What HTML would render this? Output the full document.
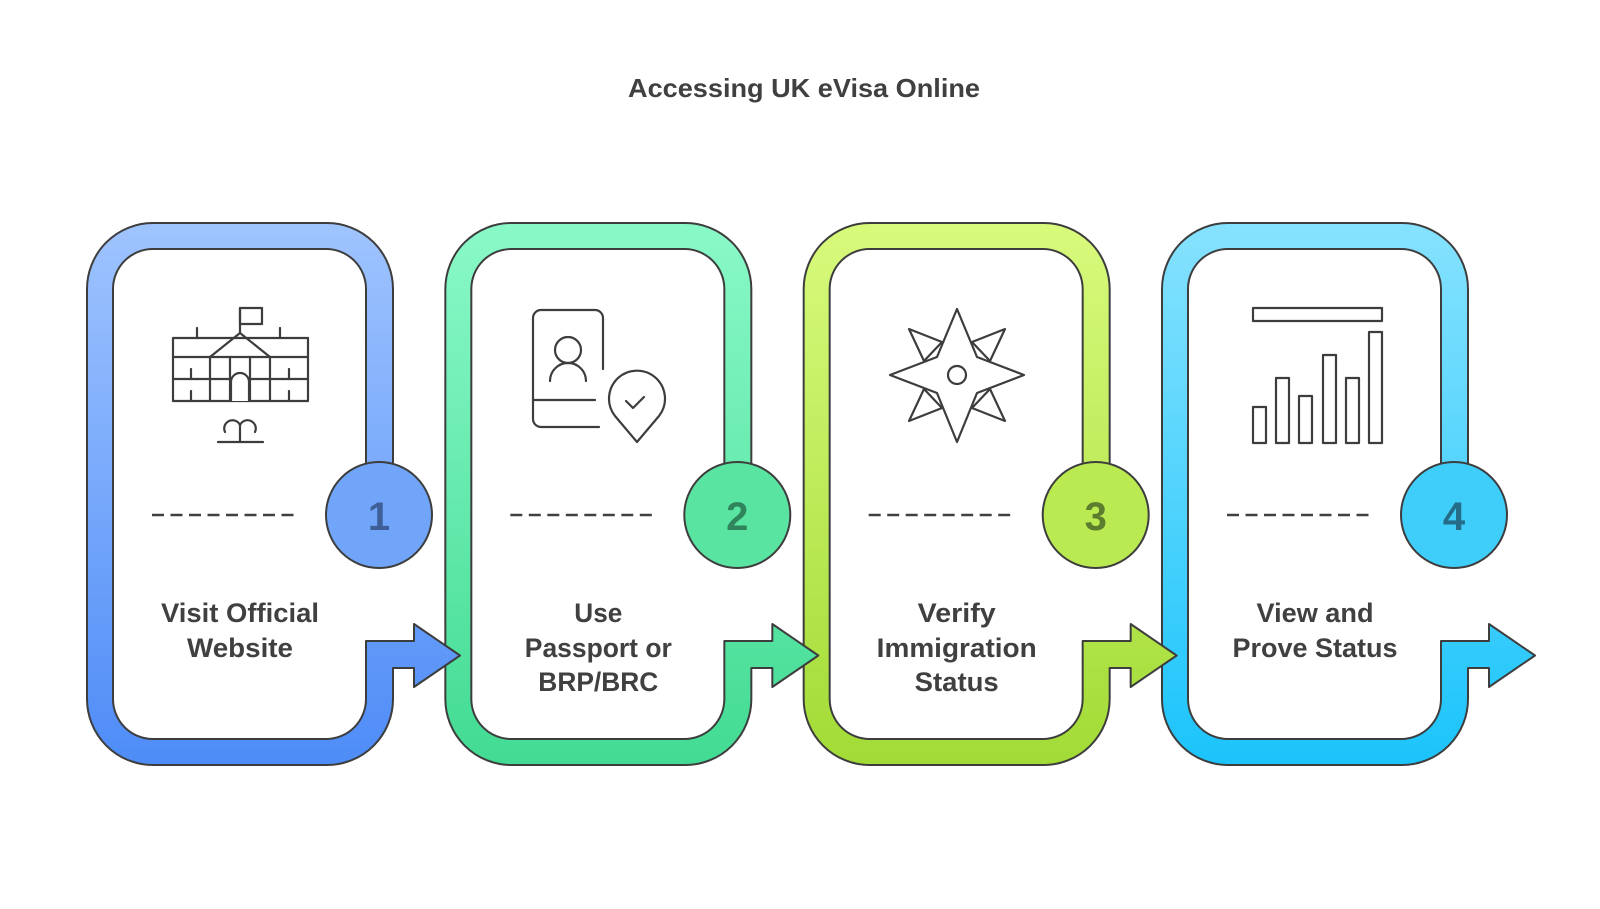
<!DOCTYPE html>
<html><head><meta charset="utf-8"><style>
html,body{margin:0;padding:0;background:#fff;}
svg{display:block;}
text{font-family:"Liberation Sans",sans-serif;font-weight:bold;fill:#404040;}
</style></head><body>
<svg width="1600" height="909" viewBox="0 0 1600 909" xmlns="http://www.w3.org/2000/svg">
<defs>
<linearGradient id="g1" gradientUnits="userSpaceOnUse" x1="0" y1="223" x2="0" y2="765"><stop offset="0" stop-color="#9fc4fe"/><stop offset="1" stop-color="#4e8cf7"/></linearGradient>
<linearGradient id="g2" gradientUnits="userSpaceOnUse" x1="0" y1="223" x2="0" y2="765"><stop offset="0" stop-color="#8af9c8"/><stop offset="1" stop-color="#42db93"/></linearGradient>
<linearGradient id="g3" gradientUnits="userSpaceOnUse" x1="0" y1="223" x2="0" y2="765"><stop offset="0" stop-color="#d8fa7c"/><stop offset="1" stop-color="#a2db36"/></linearGradient>
<linearGradient id="g4" gradientUnits="userSpaceOnUse" x1="0" y1="223" x2="0" y2="765"><stop offset="0" stop-color="#86e2fe"/><stop offset="1" stop-color="#1bc4fb"/></linearGradient>
<path id="shape" d="M366,470 L366,289 A40 40 0 0 0 326,249 L153,249 A40 40 0 0 0 113,289 L113,699 A40 40 0 0 0 153,739 L326,739 A40 40 0 0 0 366,699 L366,641 L414,641 L414,624 L460,655.5 L414,687 L414,668 L393,668 L393,699 A66 66 0 0 1 327,765 L153,765 A66 66 0 0 1 87,699 L87,289 A66 66 0 0 1 153,223 L327,223 A66 66 0 0 1 393,289 L393,470 Z"/>
</defs>

<text x="804" y="97" font-size="26" text-anchor="middle" textLength="352" lengthAdjust="spacingAndGlyphs">Accessing UK eVisa Online</text>

<g stroke="#3d3d3d" stroke-width="2" stroke-linejoin="round">
<use href="#shape" fill="url(#g4)" transform="translate(1075,0)"/>
<use href="#shape" fill="url(#g3)" transform="translate(716.67,0)"/>
<use href="#shape" fill="url(#g2)" transform="translate(358.33,0)"/>
<use href="#shape" fill="url(#g1)"/>
<circle cx="379" cy="515" r="53" fill="#70a5f9"/>
<circle cx="737.3" cy="515" r="53" fill="#5ae4a2"/>
<circle cx="1095.7" cy="515" r="53" fill="#b9ea52"/>
<circle cx="1454" cy="515" r="53" fill="#3fcefa"/>
</g>
<g font-size="40" text-anchor="middle">
<text x="379" y="530" style="fill:#3e5f98">1</text>
<text x="737.3" y="530" style="fill:#2f845c">2</text>
<text x="1095.7" y="530" style="fill:#5c7d2e">3</text>
<text x="1454" y="530" style="fill:#246c88">4</text>
</g>

<g stroke="#404040" stroke-width="2.5" stroke-dasharray="12 6.5" fill="none">
<line x1="152" y1="515" x2="294" y2="515"/>
<line x1="510.3" y1="515" x2="652.3" y2="515"/>
<line x1="868.7" y1="515" x2="1010.7" y2="515"/>
<line x1="1227" y1="515" x2="1369" y2="515"/>
</g>

<g font-size="27" text-anchor="middle">
<text x="240" y="622" textLength="158" lengthAdjust="spacingAndGlyphs">Visit Official</text>
<text x="240" y="657" textLength="106" lengthAdjust="spacingAndGlyphs">Website</text>
<text x="598.3" y="622" textLength="48" lengthAdjust="spacingAndGlyphs">Use</text>
<text x="598.3" y="657" textLength="147" lengthAdjust="spacingAndGlyphs">Passport or</text>
<text x="598.3" y="691" textLength="120" lengthAdjust="spacingAndGlyphs">BRP/BRC</text>
<text x="956.7" y="622" textLength="78" lengthAdjust="spacingAndGlyphs">Verify</text>
<text x="956.7" y="657" textLength="160" lengthAdjust="spacingAndGlyphs">Immigration</text>
<text x="956.7" y="691" textLength="84" lengthAdjust="spacingAndGlyphs">Status</text>
<text x="1315" y="622" textLength="117" lengthAdjust="spacingAndGlyphs">View and</text>
<text x="1315" y="657" textLength="165" lengthAdjust="spacingAndGlyphs">Prove Status</text>
</g>

<g stroke="#3d3d3d" stroke-width="2.2" fill="none" stroke-linecap="round" stroke-linejoin="round">
<rect x="173" y="338" width="135" height="63"/>
<line x1="173" y1="357" x2="308" y2="357"/>
<line x1="173" y1="379" x2="308" y2="379"/>
<polyline points="210,357 240,333 270,357"/>
<line x1="210" y1="357" x2="210" y2="401"/>
<line x1="230" y1="357" x2="230" y2="401"/>
<line x1="250" y1="357" x2="250" y2="401"/>
<line x1="270" y1="357" x2="270" y2="401"/>
<path d="M231,401 L231,382 A9 9 0 0 1 249,382 L249,401" fill="#fff"/>
<line x1="197" y1="328" x2="197" y2="338"/>
<line x1="280" y1="328" x2="280" y2="338"/>
<line x1="191" y1="369" x2="191" y2="379"/><line x1="191" y1="391" x2="191" y2="401"/>
<line x1="289" y1="369" x2="289" y2="379"/><line x1="289" y1="391" x2="289" y2="401"/>
<line x1="240" y1="308" x2="240" y2="333"/>
<rect x="240" y="308" width="22" height="16"/>
<line x1="218" y1="442" x2="263" y2="442"/>
<line x1="240" y1="425" x2="240" y2="442"/>
<path d="M225,432 A7.5 7.5 0 0 1 240,425 A7.5 7.5 0 0 1 255,432"/>
<path d="M603,369 L603,318 A8 8 0 0 0 595,310 L541,310 A8 8 0 0 0 533,318 L533,419 A8 8 0 0 0 541,427 L599,427"/>
<line x1="533" y1="400" x2="595" y2="400"/>
<circle cx="568" cy="350" r="13"/>
<path d="M550,381 A18 18 0 0 1 586,381"/>
<path d="M637,442 L615,416 A28 28 0 1 1 659,416 Z"/>
<polyline points="626,401 633,408 644,397"/>
<g fill="#fff">
<polygon points="909,329 942,342 924,361"/>
<polygon points="1005,329 972,342 990,361"/>
<polygon points="909,421 942,408 924,389"/>
<polygon points="1005,421 972,408 990,389"/>
<polygon points="957,309 977,357 1024,375 977,393 957,442 937,393 890,375 937,357"/>
</g>
<circle cx="957" cy="375" r="9"/>
<rect x="1253" y="308" width="129" height="13"/>
<rect x="1253" y="407" width="13" height="36"/>
<rect x="1276" y="378" width="13" height="65"/>
<rect x="1299" y="396" width="13" height="47"/>
<rect x="1323" y="355" width="13" height="88"/>
<rect x="1346" y="378" width="13" height="65"/>
<rect x="1369" y="332" width="13" height="111"/>
</g>
</svg>
</body></html>
